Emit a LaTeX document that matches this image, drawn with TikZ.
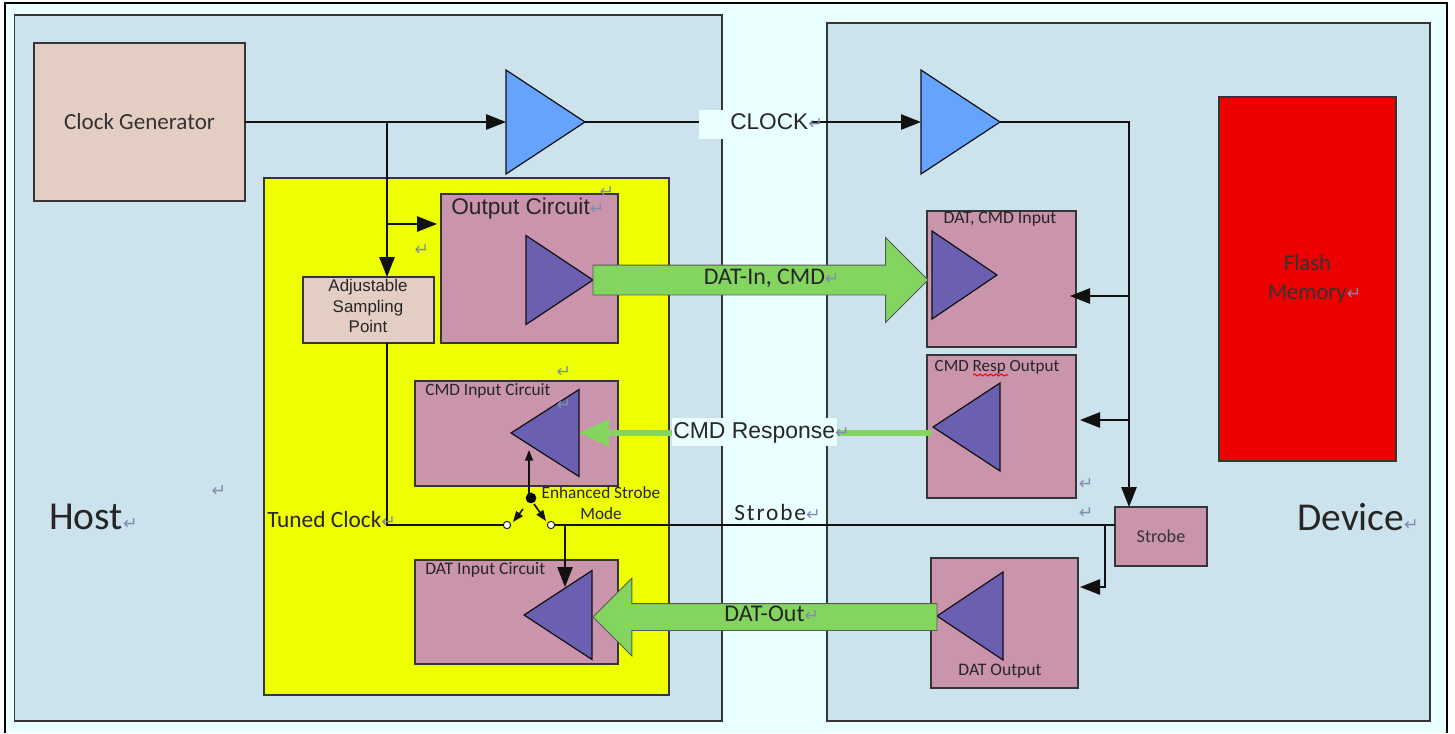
\documentclass[tikz,border=0pt]{standalone}
\usepackage{fontspec}
\setmainfont{Carlito}
\newfontfamily\arialfont{Liberation Sans}
\newfontfamily\markfont{DejaVu Sans}
\usetikzlibrary{arrows.meta,shapes.geometric,shapes.arrows,decorations.pathmorphing}
\usepackage{xcolor}
\definecolor{gapcol}{HTML}{EAFFFF}
\definecolor{panelcol}{HTML}{CCE2EC}
\definecolor{sandcol}{HTML}{E4CDC3}
\definecolor{yellowcol}{HTML}{EEFF00}
\definecolor{mauvecol}{HTML}{C994AC}
\definecolor{violetcol}{HTML}{6A5FB0}
\definecolor{ampcol}{HTML}{66A3FF}
\definecolor{greencol}{HTML}{84D460}
\definecolor{flashcol}{HTML}{EE0000}
\definecolor{markcol}{HTML}{7F8DB0}
\definecolor{wirecol}{HTML}{111111}
\newcommand{\retmark}{{\markfont\fontsize{13}{13}\selectfont\textcolor{markcol}{↵}}}
\tikzset{
  boxsize/.style 2 args={minimum width=#1*0.75pt,minimum height=#2*0.75pt},
  ampsize/.style 2 args={minimum height=#1*0.75pt,minimum width=#2*0.75pt},
  block/.style={draw=wirecol!85,line width=1.3pt,inner sep=0pt,outer sep=0pt,anchor=north west,align=center,text=black!80},
  amp/.style={isosceles triangle,isosceles triangle stretches,draw=wirecol,line width=0.9pt,inner sep=0pt,outer sep=0pt,anchor=apex,fill=violetcol},
  wire/.style={draw=wirecol,line width=1.2pt},
  bigtip/.style={-{Triangle[length=15pt,width=11.5pt]}},
  smalltip/.style={-{Triangle[length=8pt,width=6pt]}},
  bigflow/.style={single arrow,draw=wirecol!70,line width=0.7pt,fill=greencol,inner sep=0pt,outer sep=0pt,single arrow head indent=0pt,anchor=tip,text=black!85},
  txt/.style={inner sep=0pt,text=black!85,align=center},
  sanstxt/.style={txt,font=\arialfont},
  parmark/.style={inner sep=0pt}
}

\begin{document}
\begin{tikzpicture}[x=0.75pt,y=0.75pt,yscale=-1,xscale=1]
\useasboundingbox (0,0) rectangle (1455,733);

%Outer frame
\fill [gapcol] (5,3) rectangle (1447,733);
\draw [line width=1.9pt] (5,733) -- (5,3) -- (1447,3) -- (1447,733);

%Panels
\node (host) [block,fill=panelcol,boxsize={707.5}{706}] at (14.5,15) {};
\node (device) [block,fill=panelcol,boxsize={603}{698}] at (827,23) {};
\node (tuned) [block,fill=yellowcol,boxsize={405}{517}] at (264,178) {};

%Blocks
\node (clockgen) [block,fill=sandcol,boxsize={211}{158},font=\fontsize{17.3}{20}\selectfont] at (34,43) {Clock Generator};
\node (sampling) [block,fill=sandcol,boxsize={131}{66}] at (303,277) {};
\node (outcircuit) [block,fill=mauvecol,boxsize={177}{149}] at (441,194) {};
\node (cmdcircuit) [block,fill=mauvecol,boxsize={203}{105}] at (415,381) {};
\node (datcircuit) [block,fill=mauvecol,boxsize={203}{104}] at (415,560) {};
\node (datcmdin) [block,fill=mauvecol,boxsize={149}{136}] at (927,211) {};
\node (cmdresp) [block,fill=mauvecol,boxsize={149}{143}] at (927,355) {};
\node (datout) [block,fill=mauvecol,boxsize={147}{130}] at (931,558) {};
\node (strobe) [block,fill=mauvecol,boxsize={92}{59},font=\fontsize{13.6}{15}\selectfont] at (1115,507) {Strobe};
\node (flash) [block,fill=flashcol,boxsize={177}{364},font=\fontsize{17}{21.7}\selectfont] at (1219,97) {Flash\\\hspace*{10.5pt}Memory\retmark};

%Amplifiers
\node (hostamp) [amp,fill=ampcol,ampsize={79}{104}] at (585,122) {};
\node (devamp) [amp,fill=ampcol,ampsize={79}{104}] at (1000,122) {};
\node (outamp) [amp,ampsize={67}{89}] at (593,280) {};
\node (inamp) [amp,ampsize={65}{88}] at (997,275) {};
\node (cmdamp) [amp,ampsize={68}{87},shape border rotate=180] at (511,433) {};
\node (respamp) [amp,ampsize={67}{88},shape border rotate=180] at (933,427) {};
\node (datamp) [amp,ampsize={68}{89},shape border rotate=180] at (524,615) {};
\node (dotamp) [amp,ampsize={66}{88},shape border rotate=180] at (937,616) {};

%Switch
\node (pole) [circle,fill=black,inner sep=0pt,minimum size=8pt] at (531,498) {};
\node (termleft) [circle,draw=wirecol,fill=white,line width=0.7pt,inner sep=0pt,minimum size=5.5pt] at (507,525) {};
\node (termright) [circle,draw=wirecol,fill=white,line width=0.7pt,inner sep=0pt,minimum size=5.5pt] at (551,525) {};

%Joints and free ends
\coordinate (clockjoin) at (387,122);
\coordinate (outjoin) at (387,224);
\coordinate (outend) at (437,224);
\coordinate (polejoin) at (529,498);
\coordinate (poleend) at (529,450);
\coordinate (armleftstart) at (523,509);
\coordinate (armleftend) at (513,522);
\coordinate (armrightstart) at (534,504);
\coordinate (armrightend) at (546,521);
\coordinate (strobejoin) at (565,525);
\coordinate (datampend) at (565,587);
\coordinate (corner) at (1129,122);
\coordinate (injoin) at (1129,296);
\coordinate (inend) at (1070,296);
\coordinate (respjoin) at (1129,420);
\coordinate (respend) at (1080,420);
\coordinate (datjoin) at (1105,525);
\coordinate (datbend) at (1105,587);
\coordinate (datend) at (1080,587);
\coordinate (respstart) at (932,433);

%Connectors
\draw [wire,bigtip] (clockgen.east) -- (hostamp.west);
\draw [wire,bigtip] (clockjoin) -- (sampling.north -| clockjoin);
\draw [wire,bigtip] (outjoin) -- (outend);
\draw [wire] (sampling.south -| clockjoin) |- (termleft);
\draw [wire,bigtip] (hostamp.apex) -- (devamp.west);
\draw [wire,bigtip] (devamp.apex) -- (corner) -- (strobe.north -| corner);
\draw [wire,bigtip] (injoin) -- (inend);
\draw [wire,bigtip] (respjoin) -- (respend);
\draw [wire] (strobe.west |- termright) -- (termright);
\draw [wire,bigtip] (datjoin) -- (datbend) -- (datend);
\draw [wire,bigtip] (strobejoin) -- (datampend);
\draw [wire,smalltip] (polejoin) -- (poleend);
\draw [wire,smalltip] (armleftstart) -- (armleftend);
\draw [wire,smalltip] (armrightstart) -- (armrightend);

%Green flows
\node (datinflow) [bigflow,boxsize={84}{335},single arrow head extend=20.6pt,font=\fontsize{17.9}{17}\selectfont,text height=14.5pt,text depth=7.25pt] at (928,280) {\hspace*{28pt}DAT-In, CMD\retmark};
\node (datoutflow) [bigflow,boxsize={77}{344},single arrow head extend=19pt,shape border rotate=180,font=\fontsize{18}{17}\selectfont,text height=13pt,text depth=6.5pt] at (593,617) {DAT-Out\retmark};
\draw [draw=greencol,line width=4.5pt,-{Triangle[length=22.5pt,width=19.5pt]}] (respstart) -- (cmdamp.east);

% Text Node
\node (clockmask) [fill=gapcol,inner sep=0pt,boxsize={112}{29},anchor=north west] at (699,110) {};
\node (clocklabel) [sanstxt,anchor=west,font=\arialfont\fontsize{17}{20}\selectfont] at (730,122) {CLOCK\retmark};
\node (respmask) [fill=gapcol,inner sep=0pt,boxsize={165}{28},anchor=north west] at (672,418) {};
\node (resplabel) [sanstxt,anchor=west,font=\arialfont\fontsize{17.2}{20}\selectfont] at (673,433) {CMD Response\retmark};
\node (strobelabel) [txt,anchor=west,font=\fontsize{17.5}{20}\selectfont\addfontfeatures{LetterSpace=8}] at (734,512) {Strobe\retmark};
\node (outlabel) [sanstxt,anchor=west,font=\arialfont\fontsize{17}{20}\selectfont] at (451,209) {Output Circuit\retmark};
\node (samplinglabel) [sanstxt,font=\arialfont\fontsize{12.7}{15.6}\selectfont] at (368,306) {Adjustable\\Sampling\\Point};
\node (cmdlabel) [txt,anchor=west,font=\fontsize{13}{14}\selectfont] at (425,391) {CMD Input Circuit};
\node (modelabel) [txt,font=\fontsize{12.9}{15.6}\selectfont] at (601,503) {Enhanced Strobe\\Mode};
\node (tunedlabel) [txt,anchor=west,font=\fontsize{17.5}{18}\selectfont] at (267,519) {Tuned Clock\retmark};
\node (datlabel) [txt,anchor=west,font=\fontsize{13.2}{14}\selectfont] at (425,570) {DAT Input Circuit};
\node (inlabel) [txt,font=\fontsize{13.3}{14}\selectfont] at (1000,219) {DAT, CMD Input};
\node (resplabelb) [txt,font=\fontsize{12.8}{14}\selectfont] at (997,367) {CMD Resp Output};
\node (dotlabel) [txt,font=\fontsize{13.2}{14}\selectfont] at (1000,671) {DAT Output};
\node (hostlabel) [txt,anchor=west,font=\fontsize{29.7}{32}\selectfont] at (49,517) {Host\retmark};
\node (devicelabel) [txt,anchor=west,font=\fontsize{29.6}{32}\selectfont] at (1297,517) {Device\retmark};

%Spelling mark
\coordinate (snakeleft) at (973,375);
\coordinate (snakeright) at (1008,375);
\draw [red,line width=0.8pt,decorate,decoration={snake,amplitude=0.7pt,segment length=4pt}] (snakeleft) -- (snakeright);

%Stray paragraph marks
\node (marka) [parmark] at (219,491) {\retmark};
\node (markb) [parmark] at (422,250) {\retmark};
\node (markc) [parmark] at (607,192) {\retmark};
\node (markd) [parmark] at (564,372) {\retmark};
\node (marke) [parmark] at (564,405) {\retmark};
\node (markf) [parmark] at (1086,484) {\retmark};
\node (markg) [parmark] at (1086,513) {\retmark};

\end{tikzpicture}
\end{document}
